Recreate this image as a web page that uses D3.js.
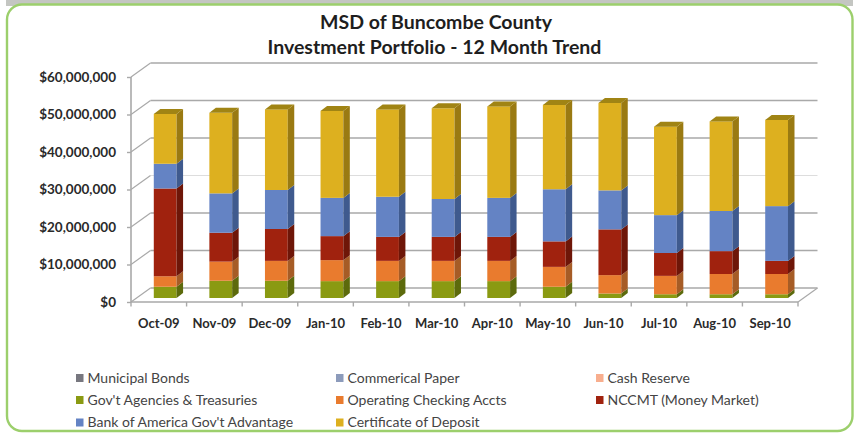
<!DOCTYPE html>
<html>
<head>
<meta charset="utf-8">
<title>MSD of Buncombe County - Investment Portfolio</title>
<script src="https://d3js.org/d3.v7.min.js"></script>
<style>
  html, body { margin: 0; padding: 0; background: #fff; }
  svg { display: block; }
  text { font-family: Lato, "Open Sans", sans-serif; }
</style>
</head>
<body>
<svg id="chart" width="856" height="433"></svg>
<script>
// Month-end balances in dollars, one array per holding
const months = ["Oct-09","Nov-09","Dec-09","Jan-10","Feb-10","Mar-10","Apr-10","May-10","Jun-10","Jul-10","Aug-10","Sep-10"];
const municipalBonds  = [0,0,0,0,0,0,0,0,0,0,0,0];
const commercialPaper = [0,0,0,0,0,0,0,0,0,0,0,0];
const cashReserve     = [0,0,0,0,0,0,0,0,0,0,0,0];
const agencies  = [3000000,4600000,4600000,4500000,4500000,4500000,4500000,3000000,1200000,1000000,1000000,1000000];
const operating = [2800000,5100000,5300000,5600000,5400000,5400000,5400000,5300000,4900000,4900000,5400000,5400000];
const nccmt     = [23400000,7700000,8500000,6400000,6400000,6400000,6400000,6800000,12200000,6100000,6100000,3500000];
const bofa      = [6600000,10500000,10400000,10200000,10700000,10100000,10400000,13900000,10400000,10100000,10700000,14600000];
const cds       = [13300000,21500000,21500000,23200000,23300000,24200000,24400000,22500000,23300000,23600000,23900000,23000000];
const valueTicks = [0,10000000,20000000,30000000,40000000,50000000,60000000];

const seriesNames = ["Municipal Bonds","Commerical Paper","Cash  Reserve","Gov't Agencies & Treasuries","Operating Checking Accts","NCCMT (Money Market)","Bank of America Gov't Advantage","Certificate of Deposit"];
const seriesValues = [municipalBonds,commercialPaper,cashReserve,agencies,operating,nccmt,bofa,cds];
const faceColors = ["#77777f","#8c9bbb","#f8ae8e","#8a9a12","#e97b2e","#a0220e","#6483c4","#ddb01f"];
const sideColors = ["#55555b","#66718a","#b88068","#5c6a0c","#a65c26","#6e1608","#3f5a8e","#9a7a12"];
const topColors  = ["#66666c","#77839e","#c8907a","#6e7d0e","#b5652a","#7d1a0a","#4c6ba3","#a08414"];

const svg = d3.select("#chart");

// Rounded card with a soft grey edge above the green outline
svg.append("rect").attr("x",6).attr("y",0).attr("width",847).attr("height",6).attr("fill","#c4c6c2");
svg.append("rect").attr("x",7).attr("y",4.5).attr("width",845.5).attr("height",426.5).attr("rx",15)
  .attr("fill","#fff").attr("stroke","#9ccf6c").attr("stroke-width",2.4);

// Title
const title = svg.append("g").attr("text-anchor","middle").attr("font-weight",700).attr("font-size",19.5).attr("fill","#1e1e1e");
title.append("text").attr("x",436).attr("y",29).text("MSD of Buncombe County");
title.append("text").attr("x",434.5).attr("y",53.5).text("Investment Portfolio - 12 Month Trend");

// Scales: the plot box is a sheared 3-D frame, so front and back share one value scale
const front = { left: 131, right: 798, bottom: 302, top: 77 };
const depth = { dx: 19.5, dy: -14 };
const x = d3.scaleBand().domain(months).range([front.left, front.right]);
const yFront = d3.scaleLinear().domain([0,60000000]).range([front.bottom, front.top]);
const yBar = v => yFront(v) - 4;
const grid = "#a9a9a9";

// Back wall grid, left wall diagonals and floor
const frame = svg.append("g").attr("fill","none").attr("stroke",grid);
valueTicks.forEach(v => {
  const yf = yFront(v), yb = yf + depth.dy;
  const weight = v === 30000000 ? 0.7 : 1.6;
  const color = v === 30000000 ? "#cfcfcf" : grid;
  frame.append("line").attr("x1",front.left+depth.dx).attr("x2",front.right+depth.dx)
    .attr("y1",yb).attr("y2",yb).attr("stroke-width",weight).attr("stroke",color);
  frame.append("line").attr("x1",front.left).attr("x2",front.left+depth.dx)
    .attr("y1",yf).attr("y2",yb).attr("stroke-width",1.2);
});
frame.append("line").attr("x1",front.left).attr("x2",front.left).attr("y1",front.top).attr("y2",front.bottom).attr("stroke-width",1.6);
frame.append("line").attr("x1",front.left).attr("x2",front.right).attr("y1",front.bottom).attr("y2",front.bottom).attr("stroke-width",1.6);
frame.append("line").attr("x1",front.right).attr("x2",front.right+depth.dx).attr("y1",front.bottom).attr("y2",front.bottom+depth.dy).attr("stroke-width",1.2);

// Value axis
const yAxis = d3.axisLeft(yFront).tickValues(valueTicks).tickSize(4).tickPadding(11)
  .tickFormat(d => "$" + d3.format(",")(d));
const yG = svg.append("g").attr("transform",`translate(${front.left},0)`).call(yAxis);
yG.select(".domain").remove();
yG.selectAll("line").attr("stroke",grid).attr("stroke-width",1.4);
yG.selectAll("text").attr("font-size",13.5).attr("font-weight",700).attr("fill","#2a2a2a").style("font-family","Lato");

// Category axis: labels sit between the tick marks
const xAxis = d3.axisBottom(x).tickSize(0).tickPadding(17);
const xG = svg.append("g").attr("transform",`translate(0,${front.bottom})`).call(xAxis);
xG.select(".domain").remove();
xG.selectAll("text").attr("font-size",13).attr("font-weight",700).attr("fill","#2a2a2a").style("font-family","Lato");
svg.append("g").selectAll("line").data(months.concat("end")).join("line")
  .attr("x1",(d,i)=>front.left+i*x.step()).attr("x2",(d,i)=>front.left+i*x.step())
  .attr("y1",front.bottom).attr("y2",front.bottom+4.5)
  .attr("stroke",grid).attr("stroke-width",1.4);

// Stacked 3-D bars, set back from the front edge of the floor
const barW = x.step() * 0.41;
const barInset = x.step() * 0.41;
const barDepth = { dx: 6.5, dy: -5 };
const rows = months.map((m,i) => {
  const row = { month: m };
  seriesNames.forEach((n,s) => row[n] = seriesValues[s][i]);
  return row;
});
const stacked = d3.stack().keys(seriesNames)(rows);
const poly = pts => pts.map(p => p.join(",")).join(" ");
const bars = svg.append("g");
months.forEach((m,i) => {
  const g = bars.append("g");
  const x0 = x(m) + barInset, x1 = x0 + barW;
  let topMost = null;
  stacked.forEach((layer,s) => {
    const [a,b] = layer[i];
    if (b <= a) return;
    const y0 = yBar(a), y1 = yBar(b);
    g.append("rect").attr("x",x0).attr("y",y1).attr("width",barW).attr("height",y0-y1).attr("fill",faceColors[s]);
    g.append("polygon").attr("fill",sideColors[s]).attr("points",poly([
      [x1,y0],[x1+barDepth.dx,y0+barDepth.dy],[x1+barDepth.dx,y1+barDepth.dy],[x1,y1]]));
    topMost = { s, y1 };
  });
  g.append("polygon").attr("fill",topColors[topMost.s]).attr("points",poly([
    [x0,topMost.y1],[x1,topMost.y1],[x1+barDepth.dx,topMost.y1+barDepth.dy],[x0+barDepth.dx,topMost.y1+barDepth.dy]]));
});

// Legend, three columns filled row by row
const legendCols = [76,336,596];
const legendRows = [378,400,422.5];
const legend = svg.append("g");
seriesNames.forEach((n,i) => {
  const cx = legendCols[i % 3], cy = legendRows[Math.floor(i / 3)];
  legend.append("rect").attr("x",cx).attr("y",cy-4).attr("width",7.5).attr("height",8).attr("fill",faceColors[i]);
  legend.append("text").attr("x",cx+11.5).attr("y",cy+4.5).attr("font-size",14).attr("fill","#444").text(n);
});
</script>
</body>
</html>
